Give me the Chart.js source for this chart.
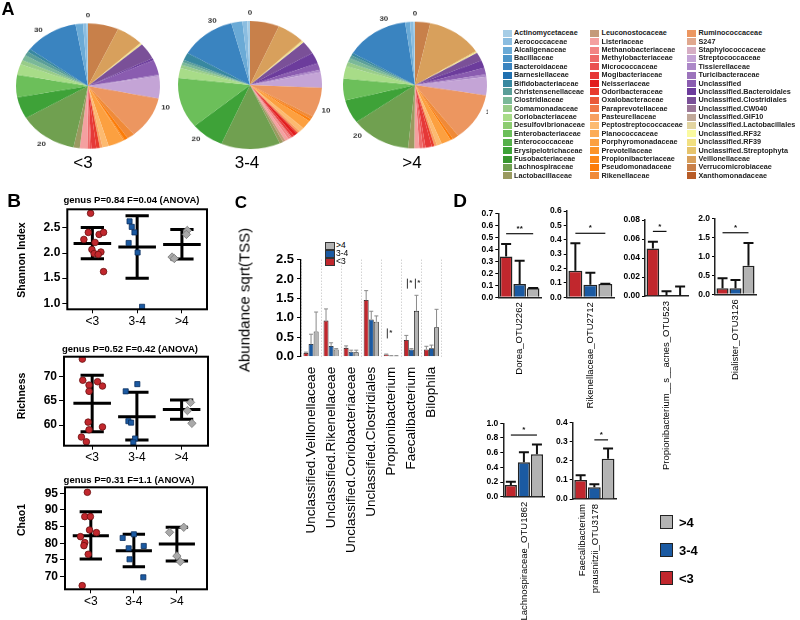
<!DOCTYPE html>
<html>
<head>
<meta charset="utf-8">
<title>Microbiome composition by group</title>
<script src="https://cdn.jsdelivr.net/npm/chart.js@4.4.1/dist/chart.umd.min.js"></script>
<style>
  body { margin: 0; background: #fff; }
  #fig { position: relative; width: 800px; height: 620px; overflow: hidden; color: #000; }
  #fig canvas, .t, .sw, #pies { position: absolute; }
  .t { white-space: nowrap; }
</style>
</head>
<body>
<div id="fig"></div>
<script>
// ---------- data ----------
const groups = ['<3', '3-4', '>4'];

// A: family composition (percent of each pie, legend order)
const families = [
  'Actinomycetaceae', 'Aerococcaceae', 'Alcaligenaceae', 'Bacillaceae', 'Bacteroidaceae', 'Barnesiellaceae',
  'Bifidobacteriaceae', 'Christensenellaceae', 'Clostridiaceae', 'Comamonadaceae', 'Coriobacteriaceae',
  'Desulfovibrionaceae', 'Enterobacteriaceae', 'Enterococcaceae', 'Erysipelotrichaceae', 'Fusobacteriaceae',
  'Lachnospiraceae', 'Lactobacillaceae',
  'Leuconostocaceae', 'Listeriaceae', 'Methanobacteriaceae', 'Methylobacteriaceae', 'Micrococcaceae',
  'Mogibacteriaceae', 'Neisseriaceae', 'Odoribacteraceae', 'Oxalobacteraceae', 'Paraprevotellaceae',
  'Pasteurellaceae', 'Peptostreptococcaceae', 'Planococcaceae', 'Porphyromonadaceae', 'Prevotellaceae',
  'Propionibacteriaceae', 'Pseudomonadaceae', 'Rikenellaceae',
  'Ruminococcaceae', 'S247', 'Staphylococcaceae', 'Streptococcaceae', 'Tissierellaceae', 'Turicibacteraceae',
  'Unclassified', 'Unclassified.Bacteroidales', 'Unclassified.Clostridiales', 'Unclassified.CW040',
  'Unclassified.GIF10', 'Unclassified.Lactobacillales', 'Unclassified.RF32', 'Unclassified.RF39',
  'Unclassified.Streptophyta', 'Veillonellaceae', 'Verrucomicrobiaceae', 'Xanthomonadaceae'
];
const familyColors = [
  '#a6cde6', '#8bbde0', '#6aaad6', '#4c95c8', '#3a84c0', '#2070b0', '#3888a0', '#5a9e98', '#7ab898',
  '#98cc88', '#a8dc88', '#8ccc70', '#6cbf5a', '#55b04a', '#3ea238', '#38962f', '#70a050', '#9a9a60',
  '#c49a7a', '#f4a0a0', '#f28484', '#ee6a6a', '#ea5050', '#e63838', '#e21c1c', '#e83a2c', '#ea5838',
  '#f07848', '#f8a060', '#fcba70', '#fcac58', '#fca040', '#fc9428', '#fc8818', '#fc7c08', '#f08a38',
  '#ec9660', '#e0a88e', '#d6aec4', '#c4a4d6', '#ac88c8', '#9c74bc', '#8a5cb0', '#6c3c9c', '#7a5098',
  '#9c7898', '#c0a898', '#e2d4a0', '#fafaa0', '#f2e080', '#e6c46c', '#d8a05c', '#c8804a', '#b85c28'
];
const pieLt3 = [
  0.3, 0.8, 1.7, 0, 12.2, 0, 0.8, 1.1, 1.4, 1.1, 2.8, 0, 5.8, 0, 5.6, 0, 13.3, 1.4,
  0, 1.7, 0, 0.6, 0.3, 1.1, 0, 0.8, 0, 0, 0.6, 1.4, 0, 3.6, 0, 0.3, 0.8, 1.7,
  10.8, 0, 0, 5.8, 0.3, 0, 3.9, 0.6, 4.2, 0, 0, 0, 0.1, 0.3, 0.1, 6.1, 6.9, 0
];
const pie34 = [
  0.6, 1.1, 2.5, 0, 12.5, 0, 1.9, 0.6, 0.8, 0.8, 2.5, 0, 12.8, 0, 7.5, 0, 13.3, 0.8,
  0.6, 0.8, 0.6, 0.3, 0, 0.6, 0.8, 0.3, 0, 0, 0.6, 1.1, 0, 2.2, 0, 0, 0.6, 0.8,
  7.5, 0, 0, 3.9, 0.6, 0, 1.7, 2.8, 3.3, 0, 0, 0, 0.1, 0.3, 0.2, 6.2, 6.6, 0
];
const pieGt4 = [
  0.3, 0.8, 1.1, 0, 14.4, 0, 0.6, 0.8, 1.1, 1.1, 3.1, 0, 5.6, 0, 6.0, 0, 13.5, 1.4,
  0, 1.1, 0, 0.8, 0.6, 1.4, 0, 0.6, 0, 0, 0.6, 1.1, 0, 2.2, 0, 0, 0.6, 1.4,
  12.1, 0, 0, 4.7, 0.6, 0, 1.7, 1.9, 2.2, 0, 0, 0, 0.1, 0.2, 0.2, 12.6, 3.4, 0
];
const pieTotals = [33.5, 32.5, 32];
const pieTicks = [0, 10, 20, 30];

// B: alpha diversity, points as [x jitter, value]
const shannonLt3 = [[0.96, 2.79], [0.91, 2.41], [1.15, 2.37], [1.25, 2.41], [0.81, 2.27], [1.06, 2.21],
  [0.99, 2.07], [1.04, 1.99], [1.19, 2.02], [1.13, 1.97], [1.25, 1.63]];
const shannon34 = [[1.83, 2.63], [1.88, 2.52], [1.94, 2.41], [1.81, 2.20], [2.01, 2.01], [2.11, 0.93]];
const shannonGt4 = [[3.12, 2.45], [3.1, 2.37], [2.78, 1.92], [2.83, 1.89]];
const shannonMean = [2.19, 2.12, 2.17];
const shannonUp = [2.51, 2.74, 2.47];
const shannonLow = [1.885, 1.50, 1.88];

const richLt3 = [[0.78, 73.7], [0.79, 69.3], [0.93, 68.3], [1.12, 69.0], [1.23, 68.1], [0.93, 67.0],
  [0.91, 60.6], [0.93, 59.0], [1.23, 59.6], [0.76, 57.5], [0.87, 56.5]];
const rich34 = [[2.01, 68.5], [1.75, 67.0], [1.81, 60.8], [1.87, 60.5], [1.96, 57.2], [1.92, 56.4]];
const richGt4 = [[3.2, 64.7], [3.13, 63.0], [3.23, 60.35]];
const richMean = [64.5, 61.7, 63.25];
const richUp = [70.35, 66.8, 65.2];
const richLow = [58.6, 56.9, 61.2];

const chaoLt3 = [[0.92, 95.3], [0.86, 88.0], [0.99, 88.0], [0.97, 84.0], [1.13, 83.2], [0.76, 82.0],
  [0.86, 80.2], [0.84, 79.3], [0.94, 76.7], [0.80, 67.3]];
const chao34 = [[2.0, 82.7], [1.74, 81.6], [2.23, 79.2], [1.88, 78.5], [1.9, 75.2], [2.22, 69.8]];
const chaoGt4 = [[3.16, 84.8], [2.83, 83.3], [3.0, 76.2], [3.08, 74.5]];
const chaoMean = [82.3, 77.8, 79.8];
const chaoUp = [89.5, 82.7, 84.8];
const chaoLow = [75.3, 73.0, 74.7];

// C: genus abundance sqrt(TSS), bar height and top of error bar
const cTaxa = ['Unclassified.Veillonellaceae', 'Unclassified.Rikenellaceae', 'Unclassified.Coriobacteriaceae',
  'Unclassified.Clostridiales', 'Propionibacterium', 'Faecalibacterium', 'Bilophila'];
const cLt3 = [0.10, 0.93, 0.23, 1.46, 0.06, 0.43, 0.19];
const c34 = [0.33, 0.28, 0.13, 0.96, 0.02, 0.19, 0.22];
const cGt4 = [0.65, 0.19, 0.12, 0.90, 0.02, 1.18, 0.76];
const cLt3Err = [0.12, 1.23, 0.28, 1.70, 0.07, 0.55, 0.27];
const c34Err = [0.58, 0.36, 0.17, 1.17, 0.03, 0.21, 0.30];
const cGt4Err = [1.15, 0.21, 0.17, 1.05, 0.03, 1.58, 1.22];
const cSigCount = [0, 0, 0, 0, 1, 2, 0];
const cSigY = [null, null, null, null, 0.6, 1.88, null];

// D: OTU abundance
const dTaxa = ['Dorea_OTU2262', 'Rikenellaceae_OTU2712', 'Propionibacterium__s__acnes_OTU523',
  'Dialister_OTU3126', 'Lachnospiraceae_OTU1862', ['Faecalibacterium', 'prausnitzii_OTU3178']];
const dLt3 = [0.34, 0.185, 0.05, 0.16, 0.16, 0.10];
const d34 = [0.11, 0.088, 0.0004, 0.16, 0.47, 0.061];
const dGt4 = [0.075, 0.092, 0.0003, 0.75, 0.58, 0.211];
const dLt3Err = [0.445, 0.375, 0.057, 0.42, 0.205, 0.125];
const d34Err = [0.305, 0.17, 0.005, 0.375, 0.605, 0.077];
const dGt4Err = [0.078, 0.095, 0.01, 1.35, 0.71, 0.265];
const dMax = [0.7, 0.6, 0.08, 2.0, 1.0, 0.4];
const dStep = [0.1, 0.1, 0.02, 0.5, 0.2, 0.1];
const dSigText = ['**', '*', '*', '*', '*', '*'];
const dSigFrom = [0, 0, 0, 0, 0, 1];
const dSigTo = [2, 2, 1, 2, 2, 2];
const dSigY = [0.53, 0.445, 0.068, 1.62, 0.84, 0.31];

// ---------- helpers ----------
const RED = '#c1272d', BLUE = '#1b5aa2', GRAY = '#b3b3b3';
const FAM = '"Liberation Sans", Arial, sans-serif';
const F = (w, s) => `${w} ${s}px/1 ${FAM}`;
const fig = document.getElementById('fig');

Chart.defaults.font.family = FAM;
Chart.defaults.color = '#000';
Chart.defaults.animation = false;
Chart.defaults.responsive = false;
Chart.defaults.devicePixelRatio = 1;
Chart.defaults.plugins.legend.display = false;
Chart.defaults.plugins.tooltip.enabled = false;

function addCanvas(x, y, w, h, parent) {
  const c = document.createElement('canvas');
  c.width = w; c.height = h;
  c.style.left = x + 'px'; c.style.top = y + 'px';
  c.style.width = w + 'px'; c.style.height = h + 'px';
  (parent || fig).appendChild(c);
  return c;
}

function addText(str, x, y, font, o = {}) {
  const d = document.createElement('div');
  d.className = 't';
  d.textContent = str;
  d.style.font = font;
  d.style.left = x + 'px'; d.style.top = y + 'px';
  d.style.transform = `translate(${o.left ? '0' : '-50%'},-50%)` + (o.rot ? ` rotate(${o.rot}deg)` : '');
  if (o.color) d.style.color = o.color;
  fig.appendChild(d);
}

// canvas placed so the plot area lands on (L,T)-(R,B) of the page
function place(L, T, R, B, ml, mt, mr, mb) {
  const x0 = Math.floor(L - ml), y0 = Math.floor(T - mt);
  const w = Math.ceil(R + mr) - x0, h = Math.ceil(B + mb) - y0;
  return {
    cv: addCanvas(x0, y0, w, h),
    pad: { left: 0, top: T - y0, right: x0 + w - R, bottom: 0 },
    fitY: s => { s.width = L - x0; s.paddingTop = s.paddingBottom = s.paddingLeft = s.paddingRight = 0; },
    fitX: s => { s.height = y0 + h - B; s.paddingTop = s.paddingBottom = s.paddingLeft = s.paddingRight = 0; }
  };
}

const pieTickPlugin = {
  id: 'pieTicks',
  afterDraw(chart, args, o) {
    const arc = chart.getDatasetMeta(0).data[0];
    const ctx = chart.ctx, r = arc.outerRadius * 1.13;
    ctx.save();
    ctx.font = F('bold', 8);
    ctx.fillStyle = '#333';
    ctx.textAlign = 'center';
    ctx.textBaseline = 'middle';
    o.ticks.forEach(t => {
      const a = t / o.total * 2 * Math.PI;
      ctx.fillText(String(t), arc.x + r * Math.sin(a), arc.y - r * Math.cos(a));
    });
    ctx.restore();
  }
};

const boxFrame = {
  id: 'boxFrame',
  afterDatasetsDraw(chart) {
    const { ctx, chartArea: a } = chart;
    ctx.save();
    ctx.strokeStyle = '#000';
    ctx.lineWidth = 2;
    ctx.strokeRect(a.left, a.top, a.right - a.left, a.bottom - a.top);
    ctx.restore();
  }
};

const errBars = {
  id: 'errBars',
  afterDatasetsDraw(chart, args, o) {
    const ctx = chart.ctx, ys = chart.scales.y;
    ctx.save();
    ctx.strokeStyle = o.color;
    ctx.lineWidth = o.width;
    chart.data.datasets.forEach((ds, i) => {
      chart.getDatasetMeta(i).data.forEach((bar, j) => {
        const top = ys.getPixelForValue(ds.errTop[j]);
        ctx.beginPath();
        ctx.moveTo(bar.x, bar.y);
        ctx.lineTo(bar.x, top);
        ctx.moveTo(bar.x - o.cap, top);
        ctx.lineTo(bar.x + o.cap, top);
        ctx.stroke();
      });
    });
    ctx.restore();
  }
};

const sigMarks = {
  id: 'sigMarks',
  afterDatasetsDraw(chart, args, o) {
    const ctx = chart.ctx, xs = chart.scales.x, ys = chart.scales.y;
    ctx.save();
    ctx.strokeStyle = '#333'; ctx.fillStyle = '#333'; ctx.lineWidth = 1;
    ctx.font = F('bold', 8); ctx.textAlign = 'center'; ctx.textBaseline = 'middle';
    o.count.forEach((n, i) => {
      if (!n) return;
      const c = xs.getPixelForValue(i), y = ys.getPixelForValue(o.y[i]);
      for (let k = 0; k < n; k++) {
        const bx = c - 4 + 8 * k;
        ctx.beginPath(); ctx.moveTo(bx, y - 5); ctx.lineTo(bx, y + 5); ctx.stroke();
        ctx.fillText('*', bx + 3.5, y - 1);
      }
    });
    ctx.restore();
  }
};

const sigLine = {
  id: 'sigLine',
  afterDatasetsDraw(chart, args, o) {
    const ctx = chart.ctx;
    const a = chart.getDatasetMeta(o.from).data[0], b = chart.getDatasetMeta(o.to).data[0];
    const y = chart.scales.y.getPixelForValue(o.y);
    ctx.save();
    ctx.strokeStyle = '#111'; ctx.lineWidth = 1.2;
    ctx.beginPath(); ctx.moveTo(a.x, y); ctx.lineTo(b.x, y); ctx.stroke();
    ctx.fillStyle = '#111'; ctx.font = F('bold', 8); ctx.textAlign = 'center'; ctx.textBaseline = 'bottom';
    ctx.fillText(o.text, (a.x + b.x) / 2, y - 1);
    ctx.restore();
  }
};

// ---------- A: pies ----------
const pieWrap = document.createElement('div');
pieWrap.id = 'pies';
Object.assign(pieWrap.style, { left: '0px', top: '0px', width: '488px', height: '175px', overflow: 'hidden' });
fig.appendChild(pieWrap);

const pieCenters = [[88, 86], [250, 85], [415, 85]];
const pieSquash = [0.87, 0.89, 0.88];
[pieLt3, pie34, pieGt4].forEach((vals, k) => {
  const [cx, cy] = pieCenters[k];
  const cv = addCanvas(cx - 95, cy - 95, 190, 190, pieWrap);
  cv.style.transform = `scaleY(${pieSquash[k]})`;
  new Chart(cv, {
    type: 'pie',
    data: {
      labels: families.slice().reverse(),
      datasets: [{ data: vals.slice().reverse(), backgroundColor: familyColors.slice().reverse(), borderWidth: 0 }]
    },
    options: {
      layout: { padding: 23 },
      plugins: { pieTicks: { ticks: pieTicks, total: pieTotals[k] } }
    },
    plugins: [pieTickPlugin]
  });
  addText(groups[k], [83, 247, 412][k], 162, F('normal', 17));
});

// family legend, three columns
const legCols = [502.5, 590, 687];
families.forEach((name, i) => {
  const col = Math.floor(i / 18), row = i % 18;
  const cy = 33.3 + row * 8.38;
  const sw = document.createElement('div');
  sw.className = 'sw';
  Object.assign(sw.style, { left: legCols[col] + 'px', top: (cy - 3.5) + 'px', width: '9px', height: '7px', background: familyColors[i] });
  fig.appendChild(sw);
  addText(name, legCols[col] + 11.5, cy, F('bold', 7.25), { left: true, color: '#222' });
});

// ---------- B: dot plots ----------
function dotPlot(area, xr, yr, step, digits, sets, mean, up, low) {
  const p = place(area[0], area[1], area[2], area[3], area[0], 6, 6, 22);
  const segMean = [], segBar = [];
  mean.forEach((m, i) => {
    const x = i + 1;
    segMean.push({ x: x - 0.42, y: m }, { x: x + 0.42, y: m }, { x, y: null });
    segBar.push({ x, y: low[i] }, { x, y: up[i] }, { x, y: null },
      { x: x - 0.26, y: up[i] }, { x: x + 0.26, y: up[i] }, { x, y: null },
      { x: x - 0.26, y: low[i] }, { x: x + 0.26, y: low[i] }, { x, y: null });
  });
  const dots = (d, style, fill, edge, r) => ({
    data: d.map(([x, y]) => ({ x, y })), pointStyle: style, pointRadius: r,
    backgroundColor: fill, borderColor: edge, borderWidth: 0.8
  });
  const line = d => ({
    data: d, showLine: true, spanGaps: false, pointRadius: 0,
    borderColor: '#000', borderWidth: 3, borderCapStyle: 'butt'
  });
  new Chart(p.cv, {
    type: 'scatter',
    data: {
      datasets: [
        dots(sets[0], 'circle', RED, '#6a1010', 3.3),
        dots(sets[1], 'rect', BLUE, '#0b2f5e', 3.6),
        dots(sets[2], 'rectRot', '#a9a9a9', '#777', 4.2),
        line(segMean), line(segBar)
      ]
    },
    options: {
      layout: { padding: p.pad },
      scales: {
        x: {
          type: 'linear', min: xr[0], max: xr[1], afterFit: p.fitX,
          grid: { drawOnChartArea: false, tickLength: 4, color: '#000' },
          border: { display: false },
          ticks: { stepSize: 1, includeBounds: false, autoSkip: false, maxRotation: 0, padding: 1,
            font: { size: 12 }, callback: v => groups[v - 1] }
        },
        y: {
          min: yr[0], max: yr[1], afterFit: p.fitY,
          grid: { drawOnChartArea: false, tickLength: 5, color: '#000' },
          border: { display: false },
          ticks: { stepSize: step, includeBounds: false, padding: 2,
            font: { size: 12, weight: 'bold' }, callback: v => v.toFixed(digits) }
        }
      }
    },
    plugins: [boxFrame]
  });
}

dotPlot([67.3, 209.3, 207, 309.3], [0.44, 3.56], [0.88, 2.87], 0.5, 1,
  [shannonLt3, shannon34, shannonGt4], shannonMean, shannonUp, shannonLow);
dotPlot([64, 356.7, 208, 445.7], [0.37, 3.59], [55.7, 74.2], 5, 0,
  [richLt3, rich34, richGt4], richMean, richUp, richLow);
dotPlot([65, 487.3, 207, 589.3], [0.4, 3.7], [66.2, 96.8], 5, 0,
  [chaoLt3, chao34, chaoGt4], chaoMean, chaoUp, chaoLow);

addText('genus P=0.84 F=0.04 (ANOVA)', 131.5, 199.5, F('bold', 9.5));
addText('genus P=0.52 F=0.42 (ANOVA)', 130, 349, F('bold', 9.5));
addText('genus P=0.31 F=1.1 (ANOVA)', 129, 479.5, F('bold', 9.5));
addText('Shannon Index', 21, 260, F('bold', 10.5), { rot: -90 });
addText('Richness', 21, 396, F('bold', 10.5), { rot: -90 });
addText('Chao1', 21, 520, F('bold', 10.5), { rot: -90 });

// ---------- C: genus bars ----------
const pc = place(301, 259.5, 441.5, 356.8, 51, 8, 6, 200);
new Chart(pc.cv, {
  type: 'bar',
  data: {
    labels: cTaxa,
    datasets: [
      { label: '<3', data: cLt3, backgroundColor: RED, errTop: cLt3Err },
      { label: '3-4', data: c34, backgroundColor: BLUE, errTop: c34Err },
      { label: '>4', data: cGt4, backgroundColor: GRAY, errTop: cGt4Err }
    ]
  },
  options: {
    layout: { padding: pc.pad },
    datasets: { bar: { categoryPercentage: 0.76, barPercentage: 0.97, borderColor: '#111', borderWidth: 0.8 } },
    plugins: {
      errBars: { color: '#8a8a8a', width: 1, cap: 2 },
      sigMarks: { count: cSigCount, y: cSigY }
    },
    scales: {
      x: {
        afterFit: pc.fitX,
        grid: { color: '#c8c8c8', lineWidth: 0.8, drawTicks: false },
        border: { display: false, dash: [1.5, 1.5] },
        ticks: { minRotation: 90, maxRotation: 90, autoSkip: false, padding: 10, font: { size: 13.5 } }
      },
      y: {
        min: 0, max: 2.5, afterFit: pc.fitY,
        grid: { drawOnChartArea: false, tickLength: 4, color: '#000' },
        border: { color: '#000', width: 1.2 },
        ticks: { stepSize: 0.5, padding: 3, font: { size: 13, weight: 'bold' }, callback: v => v.toFixed(1) }
      }
    }
  },
  plugins: [errBars, sigMarks]
});
addText('Abundance sqrt(TSS)', 244, 300, F('normal', 15), { rot: -90 });
[GRAY, BLUE, RED].forEach((col, i) => {
  const cy = [245, 253, 261][i];
  const sw = document.createElement('div');
  sw.className = 'sw';
  Object.assign(sw.style, { left: '325px', top: (cy - 3) + 'px', width: '8px', height: '6px', background: col, border: '0.5px solid #333' });
  fig.appendChild(sw);
  addText(groups[2 - i], 336, cy, F('normal', 8.5), { left: true });
});

// ---------- D: OTU bars ----------
const dAreas = [
  [498.3, 213.3, 541, 297.3, 200], [566.7, 211, 614, 297.3, 200], [645, 220, 688, 296, 200],
  [715, 218.3, 756, 294.3, 200], [503.3, 423.3, 544.5, 496.7, 124], [572.7, 422.7, 616, 499, 121]
];
dTaxa.forEach((taxon, k) => {
  const [L, T, R, B, mb] = dAreas[k];
  const p = place(L, T, R, B, 40, 10, 4, mb);
  new Chart(p.cv, {
    type: 'bar',
    data: {
      labels: [taxon],
      datasets: [
        { data: [dLt3[k]], backgroundColor: RED, errTop: [dLt3Err[k]] },
        { data: [d34[k]], backgroundColor: BLUE, errTop: [d34Err[k]] },
        { data: [dGt4[k]], backgroundColor: GRAY, errTop: [dGt4Err[k]] }
      ]
    },
    options: {
      layout: { padding: p.pad },
      datasets: { bar: { categoryPercentage: 0.95, barPercentage: 0.93, borderColor: '#222', borderWidth: 1.5 } },
      plugins: {
        errBars: { color: '#111', width: 2, cap: 5 },
        sigLine: { from: dSigFrom[k], to: dSigTo[k], y: dSigY[k], text: dSigText[k] }
      },
      scales: {
        x: {
          afterFit: p.fitX,
          grid: { drawOnChartArea: false, drawTicks: false },
          border: { color: '#222', width: 1.5 },
          ticks: { minRotation: 90, maxRotation: 90, autoSkip: false, padding: 5,
            labelOffset: Array.isArray(taxon) ? -11.5 : 0, font: { size: 9.5, lineHeight: 1.35 } }
        },
        y: {
          min: 0, max: dMax[k], afterFit: p.fitY,
          grid: { drawOnChartArea: false, tickLength: 3, color: '#000' },
          border: { color: '#222', width: 1.5 },
          ticks: { stepSize: dStep[k], autoSkip: false, padding: 2, font: { size: 8.5, weight: 'bold' },
            callback: v => v.toFixed(dMax[k] < 0.1 ? 2 : 1) }
        }
      }
    },
    plugins: [errBars, sigLine]
  });
});
[GRAY, BLUE, RED].forEach((col, i) => {
  const cy = [521.7, 550, 578.3][i];
  const sw = document.createElement('div');
  sw.className = 'sw';
  Object.assign(sw.style, { left: '660px', top: (cy - 7) + 'px', width: '11px', height: '12px', background: col, border: '1.5px solid #222' });
  fig.appendChild(sw);
  addText(groups[2 - i], 679, cy, F('bold', 13), { left: true });
});

// panel letters
addText('A', 8, 9, F('bold', 18));
addText('B', 14, 200, F('bold', 19));
addText('C', 241, 202, F('bold', 17));
addText('D', 460, 200, F('bold', 19));
</script>
</body>
</html>
